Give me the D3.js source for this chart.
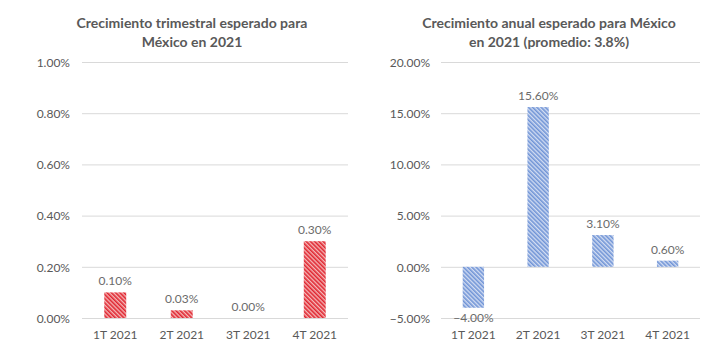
<!DOCTYPE html>
<html><head><meta charset="utf-8">
<script src="https://cdn.jsdelivr.net/npm/d3@7"></script>
<style>
html,body{margin:0;padding:0;background:#fff;}
text{font-family:Lato,"Open Sans",sans-serif;}
</style></head>
<body><svg id="c" width="724" height="364"></svg>
<script>
const categories = ["1T 2021","2T 2021","3T 2021","4T 2021"];
const quarterlyValues = [0.10, 0.03, 0.00, 0.30];
const annualValues = [-4.00, 15.60, 3.10, 0.60];
const quarterlyTicks = [0, 0.2, 0.4, 0.6, 0.8, 1.0];
const annualTicks = [-5, 0, 5, 10, 15, 20];
const quarterlyTitle = ["Crecimiento trimestral esperado para", "México en 2021"];
const annualTitle = ["Crecimiento anual esperado para México", "en 2021 (promedio: 3.8%)"];

const svg = d3.select("#c");
svg.append("rect").attr("width",724).attr("height",364).attr("fill","#fff");
const defs = svg.append("defs");
function pattern(id, bg, fg){
  const p = defs.append("pattern").attr("id",id).attr("patternUnits","userSpaceOnUse")
    .attr("width",3).attr("height",3).attr("patternTransform","rotate(-45)");
  p.append("rect").attr("width",3).attr("height",3).attr("fill",bg);
  p.append("rect").attr("x",0).attr("width",1.6).attr("height",3).attr("fill",fg);
}
pattern("pRed","#f4b8b8","#e02530");
pattern("pBlue","#d3ddf2","#7094d6");

function chart(o){
  const g = svg.append("g");
  const x = d3.scaleBand().domain(categories).range([o.x0,o.x1]).paddingInner(0.67).paddingOuter(0.335);
  const y = d3.scaleLinear().domain(o.domain).range([318,62]);
  g.append("g").attr("transform",`translate(${o.x0},0)`)
    .call(d3.axisLeft(y).tickValues(o.ticks).tickSize(-(o.x1-o.x0)).tickFormat(""))
    .call(s=>{s.select(".domain").remove(); s.selectAll("line").attr("stroke","#d9d9d9").attr("stroke-width",1);});
  g.append("g").attr("transform",`translate(${o.labelX},0)`)
    .call(d3.axisLeft(y).tickValues(o.ticks).tickSize(0).tickPadding(0).tickFormat(d=>d3.format(".2f")(d)+"%"))
    .call(s=>{s.select(".domain").remove(); s.selectAll("text").attr("fill","#595959").attr("font-size",12).attr("dy","0.35em");})
    .attr("font-family",null);
  g.selectAll("rect.bar").data(o.values).enter().append("rect").attr("class","bar")
    .attr("x",(d,i)=>x(categories[i])).attr("width",x.bandwidth())
    .attr("y",d=>y(Math.max(0,d))).attr("height",d=>Math.abs(y(d)-y(0)))
    .attr("fill",o.fill);
  g.selectAll("text.dl").data(o.values).enter().append("text").attr("class","dl")
    .attr("x",(d,i)=>x(categories[i])+x.bandwidth()/2)
    .attr("y",d=> d<0 ? y(d)+14 : y(d)-7)
    .attr("text-anchor","middle").attr("fill","#6b6b6b").attr("font-size",12)
    .text(d=>d3.format(".2f")(d)+"%");
  g.append("g").attr("transform",`translate(0,${o.catY})`)
    .call(d3.axisBottom(x).tickSize(0).tickPadding(0))
    .call(s=>{s.select(".domain").remove(); s.selectAll("text").attr("fill","#595959").attr("font-size",12).attr("dy","0.35em");})
    .attr("font-family",null);
  const t = g.append("text").attr("text-anchor","middle").attr("fill","#595959")
    .attr("font-size",14).attr("font-weight","bold");
  o.title.forEach((line,i)=>t.append("tspan").attr("x",o.titleX).attr("y",28+i*19).text(line));
}

chart({x0:82,x1:348,labelX:70,domain:[0,1],ticks:quarterlyTicks,values:quarterlyValues,fill:"url(#pRed)",catY:335,title:quarterlyTitle,titleX:192});
chart({x0:441,x1:700,labelX:430,domain:[-5,20],ticks:annualTicks,values:annualValues,fill:"url(#pBlue)",catY:335,title:annualTitle,titleX:549});
</script></body></html>
